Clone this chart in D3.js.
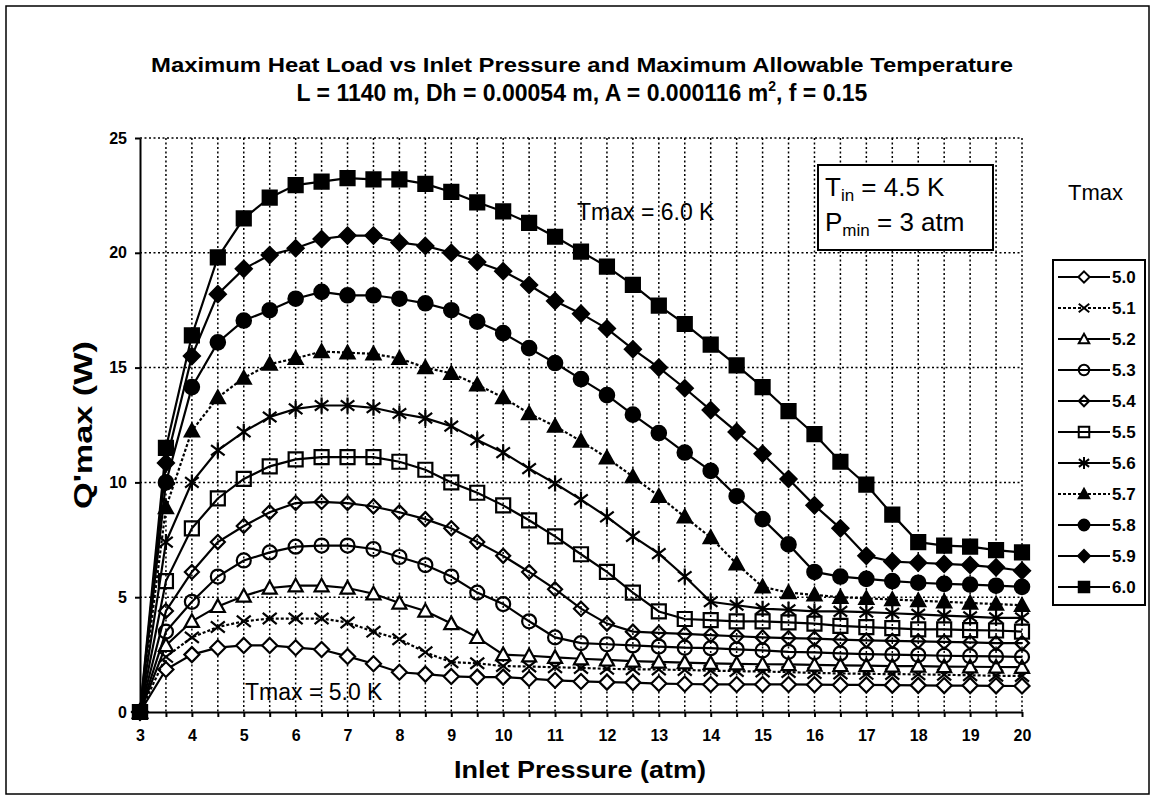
<!DOCTYPE html>
<html>
<head>
<title>Maximum Heat Load</title>
<script src="https://cdn.jsdelivr.net/npm/d3@7"></script>
<style>
  body { margin: 0; background: #fff; }
  svg { font-family: "Liberation Sans", Arial, sans-serif; }
  .grid line { stroke: #000; stroke-width: 1.5; stroke-dasharray: 2,2.5; }
  .axis path, .axis line { stroke: #000; stroke-width: 2; }
</style>
</head>
<body>
<svg width="1156" height="800"></svg>
<script>
// inlet pressure (atm), one point every 0.5 atm
var pressure = [3, 3.5, 4, 4.5, 5, 5.5, 6, 6.5, 7, 7.5, 8, 8.5, 9, 9.5, 10, 10.5, 11, 11.5,
  12, 12.5, 13, 13.5, 14, 14.5, 15, 15.5, 16, 16.5, 17, 17.5, 18, 18.5, 19, 19.5, 20];

// Q'max (W) for each Tmax
var q50 = [0, 1.85, 2.5, 2.8, 2.9, 2.9, 2.8, 2.72, 2.42, 2.1, 1.73, 1.65, 1.55, 1.52, 1.52, 1.45, 1.38, 1.33,
  1.3, 1.28, 1.24, 1.22, 1.2, 1.2, 1.2, 1.2, 1.19, 1.18, 1.18, 1.17, 1.16, 1.15, 1.15, 1.14, 1.13];
var q51 = [0, 2.4, 3.25, 3.7, 3.95, 4.07, 4.07, 4.07, 3.9, 3.5, 3.17, 2.6, 2.17, 2.12, 2.0, 1.98, 1.95, 1.92,
  1.88, 1.86, 1.85, 1.83, 1.8, 1.78, 1.76, 1.74, 1.7, 1.68, 1.66, 1.65, 1.64, 1.62, 1.6, 1.58, 1.57];
var q52 = [0, 2.9, 3.95, 4.6, 5.05, 5.4, 5.5, 5.5, 5.4, 5.15, 4.75, 4.4, 3.85, 3.25, 2.5, 2.45, 2.38, 2.32,
  2.27, 2.22, 2.18, 2.15, 2.12, 2.1, 2.08, 2.07, 2.05, 2.03, 2.02, 2.0, 2.0, 1.98, 1.97, 1.96, 1.95];
var q53 = [0, 3.5, 4.8, 5.9, 6.6, 6.95, 7.2, 7.25, 7.25, 7.1, 6.75, 6.4, 5.9, 5.2, 4.7, 3.95, 3.25, 3.0,
  2.95, 2.9, 2.85, 2.8, 2.78, 2.73, 2.68, 2.62, 2.6, 2.55, 2.52, 2.5, 2.48, 2.45, 2.43, 2.42, 2.4];
var q54 = [0, 4.4, 6.1, 7.4, 8.1, 8.7, 9.1, 9.15, 9.1, 8.95, 8.7, 8.4, 8.0, 7.4, 6.8, 6.1, 5.35, 4.5,
  3.85, 3.5, 3.45, 3.4, 3.35, 3.3, 3.25, 3.22, 3.2, 3.15, 3.12, 3.1, 3.08, 3.05, 3.03, 3.0, 3.0];
var q55 = [0, 5.7, 8.0, 9.3, 10.15, 10.7, 11.0, 11.1, 11.1, 11.1, 10.9, 10.55, 10.0, 9.55, 9.0, 8.35, 7.65, 6.87,
  6.1, 5.2, 4.38, 4.05, 4.0, 3.95, 3.95, 3.9, 3.85, 3.75, 3.7, 3.65, 3.6, 3.6, 3.57, 3.55, 3.5];
var q56 = [0, 7.4, 10.0, 11.4, 12.2, 12.85, 13.2, 13.35, 13.35, 13.25, 13.0, 12.8, 12.45, 11.85, 11.3, 10.6, 9.95, 9.25,
  8.5, 7.65, 6.9, 5.9, 4.8, 4.65, 4.5, 4.45, 4.38, 4.38, 4.35, 4.3, 4.25, 4.2, 4.15, 4.1, 4.1];
var q57 = [0, 8.9, 12.25, 13.7, 14.55, 15.15, 15.4, 15.7, 15.65, 15.6, 15.4, 15.0, 14.75, 14.25, 13.7, 13.0, 12.45, 11.8,
  11.07, 10.25, 9.4, 8.5, 7.6, 6.45, 5.45, 5.2, 5.1, 5.0, 4.95, 4.9, 4.85, 4.8, 4.75, 4.7, 4.65];
var q58 = [0, 10.0, 14.15, 16.1, 17.05, 17.5, 18.0, 18.3, 18.15, 18.15, 18.0, 17.8, 17.5, 17.0, 16.5, 15.85, 15.2, 14.5,
  13.8, 12.95, 12.15, 11.3, 10.5, 9.4, 8.4, 7.3, 6.1, 5.9, 5.8, 5.7, 5.63, 5.58, 5.55, 5.5, 5.45];
var q59 = [0, 10.85, 15.5, 18.2, 19.3, 19.9, 20.2, 20.6, 20.75, 20.75, 20.45, 20.3, 20.0, 19.6, 19.2, 18.6, 17.9, 17.35,
  16.7, 15.8, 15.0, 14.1, 13.15, 12.2, 11.25, 10.15, 9.0, 8.0, 6.8, 6.55, 6.5, 6.45, 6.4, 6.3, 6.15];
var q60 = [0, 11.5, 16.4, 19.8, 21.5, 22.4, 22.95, 23.1, 23.25, 23.2, 23.2, 23.0, 22.65, 22.2, 21.8, 21.3, 20.7, 20.05,
  19.4, 18.6, 17.7, 16.9, 16.0, 15.1, 14.15, 13.1, 12.1, 10.9, 9.9, 8.6, 7.4, 7.25, 7.2, 7.05, 6.95];

var tmaxLabels = ["5.0", "5.1", "5.2", "5.3", "5.4", "5.5", "5.6", "5.7", "5.8", "5.9", "6.0"];
var yTicks = [0, 5, 10, 15, 20, 25];
var xLabels = [3, 4, 5, 6, 7, 8, 9, 10, 11, 12, 13, 14, 15, 16, 17, 18, 19, 20];

// marker look for each series
var series = [
  {label: tmaxLabels[0], values: q50, shape: "diamond", fill: "#fff", r: 7.5, dash: null},
  {label: tmaxLabels[1], values: q51, shape: "x", fill: "none", r: 7, dash: "3,2"},
  {label: tmaxLabels[2], values: q52, shape: "triangle", fill: "#fff", r: 7, dash: null},
  {label: tmaxLabels[3], values: q53, shape: "circle", fill: "none", r: 7, dash: null},
  {label: tmaxLabels[4], values: q54, shape: "diamond", fill: "none", r: 7, dash: null},
  {label: tmaxLabels[5], values: q55, shape: "square", fill: "none", r: 7, dash: null},
  {label: tmaxLabels[6], values: q56, shape: "asterisk", fill: "none", r: 8, dash: null},
  {label: tmaxLabels[7], values: q57, shape: "triangle", fill: "#000", r: 7, dash: "3,2"},
  {label: tmaxLabels[8], values: q58, shape: "circle", fill: "#000", r: 7.2, dash: null},
  {label: tmaxLabels[9], values: q59, shape: "diamond", fill: "#000", r: 8, dash: null},
  {label: tmaxLabels[10], values: q60, shape: "square", fill: "#000", r: 7, dash: null}
];

function shapePath(shape, s) {
  switch (shape) {
    case "diamond": return "M0," + (-s) + "L" + s + ",0L0," + s + "L" + (-s) + ",0Z";
    case "square": return "M" + (-s) + "," + (-s) + "h" + 2 * s + "v" + 2 * s + "h" + (-2 * s) + "Z";
    case "triangle": return "M0," + (-s) + "L" + s + "," + (0.8 * s) + "L" + (-s) + "," + (0.8 * s) + "Z";
    case "circle": return "M" + s + ",0A" + s + "," + s + " 0 1,1 " + (-s) + ",0A" + s + "," + s + " 0 1,1 " + s + ",0Z";
    case "x": return "M" + (-s) + "," + (-s * 0.8) + "L" + s + "," + (s * 0.8) + "M" + (-s) + "," + (s * 0.8) + "L" + s + "," + (-s * 0.8);
    case "asterisk": return "M0," + (-s) + "V" + s + "M" + (-s * 0.85) + "," + (-s * 0.65) + "L" + (s * 0.85) + "," + (s * 0.65) +
      "M" + (-s * 0.85) + "," + (s * 0.65) + "L" + (s * 0.85) + "," + (-s * 0.65);
  }
}

var svg = d3.select("svg");
var plotL = 140, plotR = 1022, plotT = 138, plotB = 712;

var x = d3.scaleLinear().domain([3, 20]).range([plotL, plotR]);
var y = d3.scaleLinear().domain([0, 25]).range([plotB, plotT]);

// outer frame
svg.append("rect").attr("x", 6).attr("y", 6).attr("width", 1143).attr("height", 788)
  .attr("fill", "none").attr("stroke", "#000").attr("stroke-width", 1.5);

// grid
var grid = svg.append("g").attr("class", "grid");
grid.selectAll(".v").data(pressure.slice(1)).enter().append("line")
  .attr("x1", function(d) { return x(d); }).attr("x2", function(d) { return x(d); })
  .attr("y1", plotT).attr("y2", plotB);
grid.selectAll(".h").data(yTicks.slice(1)).enter().append("line")
  .attr("x1", plotL).attr("x2", plotR)
  .attr("y1", function(d) { return y(d); }).attr("y2", function(d) { return y(d); });

// axes
svg.append("g").attr("class", "axis")
  .attr("transform", "translate(0," + plotB + ")")
  .call(d3.axisBottom(x).tickValues(pressure).tickSize(5).tickSizeOuter(0).tickPadding(13)
    .tickFormat(function(d) { return xLabels.indexOf(d) >= 0 ? d : ""; }));
svg.append("g").attr("class", "axis")
  .attr("transform", "translate(" + plotL + ",0)")
  .call(d3.axisLeft(y).tickValues(yTicks).tickSize(5).tickSizeOuter(0).tickPadding(8));
svg.selectAll(".axis text").attr("font-size", 16).attr("font-weight", "bold")
  .attr("font-family", "Liberation Sans, Arial, sans-serif").attr("fill", "#000");

// series
var line = d3.line()
  .x(function(d, i) { return x(pressure[i]); })
  .y(function(d) { return y(d); });

series.forEach(function(s) {
  svg.append("path").datum(s.values)
    .attr("d", line)
    .attr("fill", "none").attr("stroke", "#000").attr("stroke-width", 2.2)
    .attr("stroke-dasharray", s.dash);
  svg.append("g").selectAll("path").data(s.values).enter().append("path")
    .attr("transform", function(d, i) { return "translate(" + x(pressure[i]) + "," + y(d) + ")"; })
    .attr("d", shapePath(s.shape, s.r))
    .attr("fill", s.fill).attr("stroke", "#000").attr("stroke-width", 2.2);
});

// titles
svg.append("text").attr("x", 582).attr("y", 72).attr("text-anchor", "middle")
  .attr("font-size", 20).attr("font-weight", "bold")
  .attr("textLength", 862).attr("lengthAdjust", "spacingAndGlyphs")
  .text("Maximum Heat Load vs Inlet Pressure and Maximum Allowable Temperature");
var sub = svg.append("text").attr("x", 582).attr("y", 101).attr("text-anchor", "middle")
  .attr("font-size", 23).attr("font-weight", "bold");
sub.append("tspan").text("L = 1140 m, Dh = 0.00054 m, A = 0.000116 m");
sub.append("tspan").attr("dy", -10).attr("font-size", 14).text("2");
sub.append("tspan").attr("dy", 10).text(", f = 0.15");

svg.append("text").attr("transform", "translate(92,425) rotate(-90)").attr("text-anchor", "middle")
  .attr("font-size", 25).attr("font-weight", "bold")
  .attr("textLength", 168).attr("lengthAdjust", "spacingAndGlyphs")
  .text("Q'max (W)");
svg.append("text").attr("x", 580).attr("y", 778).attr("text-anchor", "middle")
  .attr("font-size", 24).attr("font-weight", "bold")
  .attr("textLength", 252).attr("lengthAdjust", "spacingAndGlyphs")
  .text("Inlet Pressure (atm)");

// annotations
svg.append("text").attr("x", 577).attr("y", 220).attr("font-size", 23).text("Tmax = 6.0 K");
svg.append("text").attr("x", 245).attr("y", 700).attr("font-size", 23).text("Tmax = 5.0 K");

svg.append("rect").attr("x", 818).attr("y", 165).attr("width", 175).attr("height", 85)
  .attr("fill", "#fff").attr("stroke", "#000").attr("stroke-width", 2);
var t1 = svg.append("text").attr("x", 825).attr("y", 196).attr("font-size", 26);
t1.append("tspan").text("T");
t1.append("tspan").attr("dy", 5).attr("font-size", 17).text("in");
t1.append("tspan").attr("dy", -5).text(" = 4.5 K");
var t2 = svg.append("text").attr("x", 825).attr("y", 231).attr("font-size", 26);
t2.append("tspan").text("P");
t2.append("tspan").attr("dy", 5).attr("font-size", 17).text("min");
t2.append("tspan").attr("dy", -5).text(" = 3 atm");

// legend
svg.append("text").attr("x", 1068).attr("y", 200).attr("font-size", 22).text("Tmax");
svg.append("rect").attr("x", 1053).attr("y", 260).attr("width", 92).attr("height", 345)
  .attr("fill", "#fff").attr("stroke", "#000").attr("stroke-width", 2);
var leg = svg.append("g").selectAll("g").data(series).enter().append("g")
  .attr("transform", function(d, i) { return "translate(0," + (277 + i * 31) + ")"; });
leg.append("line").attr("x1", 1058).attr("x2", 1110).attr("y1", 0).attr("y2", 0)
  .attr("stroke", "#000").attr("stroke-width", 2)
  .attr("stroke-dasharray", function(d) { return d.dash; });
leg.append("path").attr("transform", "translate(1084,0)")
  .attr("d", function(d) { return shapePath(d.shape, d.r * 0.75); })
  .attr("fill", function(d) { return d.fill; }).attr("stroke", "#000").attr("stroke-width", 2);
leg.append("text").attr("x", 1112).attr("y", 6).attr("font-size", 17).attr("font-weight", "bold")
  .text(function(d) { return d.label; });
</script>
</body>
</html>
